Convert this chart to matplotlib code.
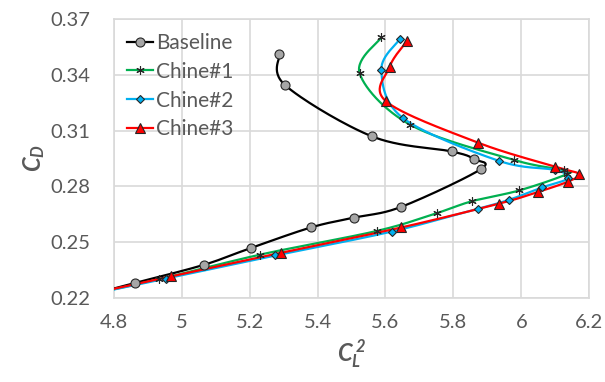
import numpy as np
import matplotlib
matplotlib.use('Agg')
import matplotlib.pyplot as plt

plt.rcParams['font.family'] = ['Lato', 'DejaVu Sans']
plt.rcParams['mathtext.fontset'] = 'custom'
plt.rcParams['mathtext.it'] = 'Lato:bold:italic'
plt.rcParams['mathtext.rm'] = 'Lato:bold:italic'
plt.rcParams['mathtext.bf'] = 'Lato:bold:italic'

# values (x = CL^2, y = CD); last point of each lies left of the axis
base_x = [5.288, 5.305, 5.561, 5.795, 5.860, 5.881, 5.646, 5.506, 5.382, 5.203, 5.066, 4.863, 4.70]
base_y = [0.3514, 0.3345, 0.3069, 0.2988, 0.2947, 0.2893, 0.2689, 0.2631, 0.2579, 0.2467, 0.2377, 0.2279, 0.2201]

ch1_x = [5.588, 5.524, 5.672, 5.977, 6.126, 6.133, 5.994, 5.855, 5.752, 5.576, 5.232, 4.933, 4.70]
ch1_y = [0.3604, 0.3409, 0.3133, 0.2943, 0.2887, 0.2865, 0.2778, 0.2720, 0.2656, 0.2560, 0.2432, 0.2299, 0.2205]

ch2_x = [5.642, 5.588, 5.651, 5.933, 6.099, 6.138, 6.061, 5.965, 5.872, 5.618, 5.276, 4.953, 4.70]
ch2_y = [0.3594, 0.3430, 0.3169, 0.2938, 0.2888, 0.2844, 0.2794, 0.2728, 0.2679, 0.2556, 0.2427, 0.2302, 0.2205]

ch3_x = [5.664, 5.612, 5.602, 5.872, 6.099, 6.169, 6.138, 6.048, 5.935, 5.646, 5.291, 4.968, 4.70]
ch3_y = [0.3586, 0.3444, 0.3258, 0.3036, 0.2906, 0.2867, 0.2826, 0.2769, 0.2707, 0.2578, 0.2441, 0.2314, 0.2207]

names = ['Baseline', 'Chine#1', 'Chine#2', 'Chine#3']
xticks = [4.8, 5.0, 5.2, 5.4, 5.6, 5.8, 6.0, 6.2]
xlabels = ['4.8', '5', '5.2', '5.4', '5.6', '5.8', '6', '6.2']
yticks = [0.22, 0.25, 0.28, 0.31, 0.34, 0.37]


def smooth(xs, ys, n=30):
    # excel-like smoothed line (catmull-rom through the points)
    p = np.column_stack([xs, ys])
    p = np.vstack([p[0], p, p[-1]])
    out = []
    t = np.linspace(0, 1, n)[:, None]
    for i in range(1, len(p) - 2):
        p0, p1, p2, p3 = p[i - 1], p[i], p[i + 1], p[i + 2]
        seg = 0.5 * ((2 * p1) + (-p0 + p2) * t + (2 * p0 - 5 * p1 + 4 * p2 - p3) * t ** 2
                     + (-p0 + 3 * p1 - 3 * p2 + p3) * t ** 3)
        out.append(seg)
    out = np.vstack(out)
    return out[:, 0], out[:, 1]


fig = plt.figure(figsize=(6.05, 3.82), dpi=100)
ax = fig.add_axes([0.188, 0.221, 0.786, 0.728])

series = [
    (base_x, base_y, '#000000', 'o', '#a6a6a6', 6.5),
    (ch1_x, ch1_y, '#00b050', (6, 2, 0), '#000000', 6),
    (ch2_x, ch2_y, '#00b0f0', 'D', '#00b0f0', 4.5),
    (ch3_x, ch3_y, '#ff0000', '^', '#ff0000', 6.5),
]

for (xs, ys, col, mk, fc, ms), nm in zip(series, names):
    sx, sy = smooth(xs, ys)
    ax.plot(sx, sy, color=col, lw=1.6, zorder=3)
    ax.plot(xs, ys, ls='none', marker=mk, ms=ms, mfc=fc, mec='#262626', mew=0.8, zorder=4)
    ax.plot([], [], color=col, lw=1.6, marker=mk, ms=ms, mfc=fc, mec='#262626', mew=0.8, label=nm)

ax.set_xlim(4.8, 6.2)
ax.set_ylim(0.22, 0.37)
ax.set_xticks(xticks)
ax.set_xticklabels(xlabels)
ax.set_yticks(yticks)
ax.set_yticklabels(['%.2f' % v for v in yticks])
ax.tick_params(length=0, labelsize=14.5, labelcolor='#595959')
ax.tick_params(axis='y', pad=17)
ax.tick_params(axis='x', pad=12)
ax.grid(True, color='#d9d9d9', lw=1.2, zorder=0)
for s in ax.spines.values():
    s.set_color('#d9d9d9')
    s.set_linewidth(1.2)

ax.set_xlabel(r'$C_L^{\,2}$', fontsize=17, color='#595959', labelpad=4)
ax.set_ylabel(r'$C_D$', fontsize=17, color='#595959', labelpad=2)

leg = ax.legend(loc='upper left', bbox_to_anchor=(0.0, 1.0), frameon=False, fontsize=15,
                handlelength=1.25, handletextpad=0.15, labelspacing=0.42, borderaxespad=0.35,
                borderpad=0.3)
for t in leg.get_texts():
    t.set_color('#595959')

fig.savefig('out.png', dpi=100)
